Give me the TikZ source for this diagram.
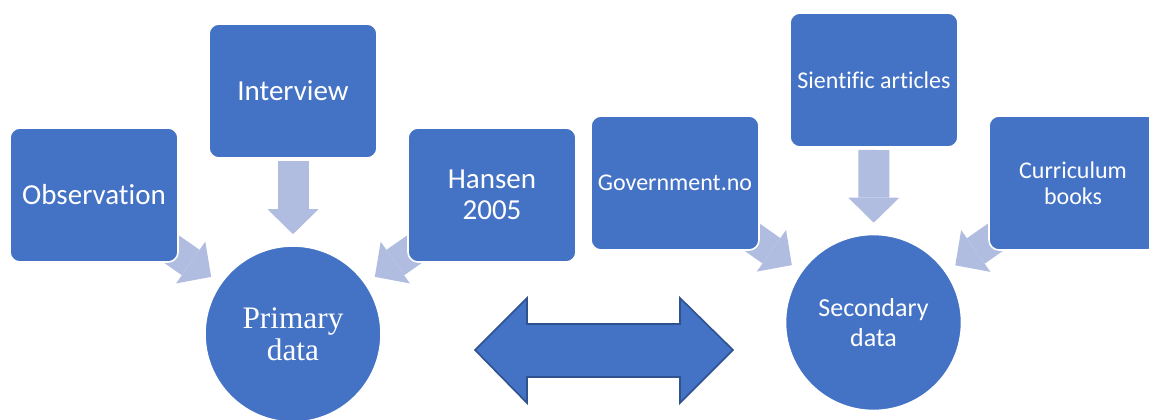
\documentclass[tikz,border=0pt]{standalone}
\usepackage{fontspec}
\setmainfont{Carlito}[Ligatures=NoCommon]
\newfontfamily\timesfont{Liberation Serif}
\usetikzlibrary{arrows.meta,backgrounds}
\definecolor{boxblue}{HTML}{4472C4}
\definecolor{arrowblue}{HTML}{B1BDE0}
\definecolor{edgeblue}{HTML}{2F528F}
\tikzset{
  source/.style={rectangle, draw=white, line width=1.2pt, fill=boxblue, rounded corners=7.5pt,
    minimum width=126pt, minimum height=100.5pt, text=white, align=center, inner sep=2pt},
  data/.style={circle, draw=white, line width=1.2pt, fill=boxblue, minimum size=132pt,
    text=white, align=center, inner sep=2pt},
  feed/.style={draw=arrowblue, line width=23.25pt,
    -{Triangle[length=18.75pt,width=38.25pt,line width=0pt]},
    shorten <=52.5pt, shorten >=8.25pt}
}
\begin{document}
\begin{tikzpicture}[x=0.75pt,y=-0.75pt]
\useasboundingbox (0,0) rectangle (1149,420);
\node[source, font=\fontsize{21.75}{23.5}\selectfont] (obs) at (94,195) {Observation};
\node[source, font=\fontsize{21.75}{23.5}\selectfont] (interview) at (293,91) {Interview};
\node[source, font=\fontsize{21.75}{23.5}\selectfont] (hansen) at (492,195) {Hansen\\2005};
\node[data, font=\timesfont\fontsize{23.5}{24}\selectfont] (primary) at (293,334) {Primary\\data};
\node[source, font=\fontsize{18}{19.5}\selectfont] (gov) at (675,183) {Government.no};
\node[source, font=\fontsize{18}{19.5}\selectfont] (articles) at (874,80) {Sientific articles};
\node[source, font=\fontsize{18}{19.5}\selectfont] (books) at (1073,183) {Curriculum\\books};
\node[data, font=\fontsize{19.5}{22}\selectfont] (secondary) at (873.5,322.5) {Secondary\\data};
\begin{scope}[on background layer]
\foreach \src/\dst in {obs/primary, interview/primary, hansen/primary,
                       gov/secondary, articles/secondary, books/secondary}
  \draw[feed] (\src.center) -- (\dst);
\end{scope}
\filldraw[fill=boxblue, draw=edgeblue, line width=1.2pt]
  (475,350) -- (527,298) -- (527,324) -- (680,324) -- (680,298) -- (733,350)
  -- (680,403) -- (680,377) -- (527,377) -- (527,403) -- cycle;
\end{tikzpicture}
\end{document}
